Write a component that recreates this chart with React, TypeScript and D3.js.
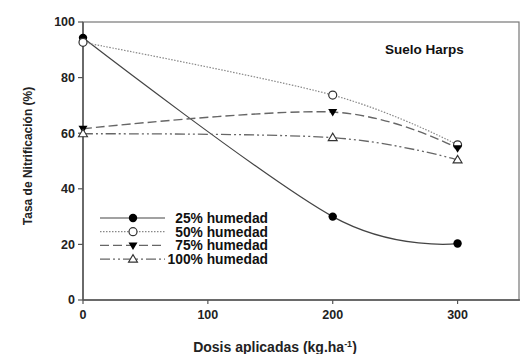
import * as d3 from "d3";
import React from "react";

const doses = [0, 200, 300];
const h25 = [94.3, 30, 20.3];
const h50 = [92.7, 73.7, 55.8];
const h75 = [61.6, 67.6, 54.6];
const h100 = [59.8, 58.4, 50.4];
const seriesNames = ["25% humedad", "50% humedad", "75% humedad", "100% humedad"];
const xTicks = [0, 100, 200, 300];
const yTicks = [0, 20, 40, 60, 80, 100];

const W = 521, H = 354;
const m = { left: 83, top: 22, right: 1, bottom: 54 };

const x = d3.scaleLinear().domain([0, 350]).range([m.left, W - m.right]);
const y = d3.scaleLinear().domain([0, 100]).range([H - m.bottom, m.top]);

const styles = [
  { stroke: "#444", dash: "none", marker: "dot", width: 1.2 },
  { stroke: "#888", dash: "1.5,1.5", marker: "circle", width: 1.2 },
  { stroke: "#666", dash: "9,4", marker: "tri-down", width: 1.4 },
  { stroke: "#666", dash: "10,3,2,3,2,3", marker: "tri-up", width: 1.3 },
];

const Marker = ({ kind, cx, cy }: { kind: string; cx: number; cy: number }) => {
  if (kind === "dot") return <circle cx={cx} cy={cy} r={4.2} fill="#000" />;
  if (kind === "circle") return <circle cx={cx} cy={cy} r={4} fill="#fff" stroke="#333" strokeWidth={1.2} />;
  if (kind === "tri-down")
    return <path d={`M${cx - 4.5},${cy - 3} L${cx + 4.5},${cy - 3} L${cx},${cy + 4.5} Z`} fill="#000" />;
  return <path d={`M${cx - 4.5},${cy + 3} L${cx + 4.5},${cy + 3} L${cx},${cy - 4.5} Z`} fill="#fff" stroke="#333" strokeWidth={1.1} />;
};

export default function App() {
  const all = [h25, h50, h75, h100];
  const line = d3.line<number>()
    .x((_v, i) => x(doses[i]))
    .y((v) => y(v))
    .curve(d3.curveCardinal.tension(0));
  const font = "Liberation Sans, Arial, sans-serif";

  return (
    <svg width={W} height={H} style={{ position: "absolute", left: 0, top: 0, background: "#fff" }} fontFamily={font}>
      {/* frame */}
      <rect x={x(0)} y={y(100)} width={x(350) - x(0) - 1} height={y(0) - y(100)} fill="none" stroke="#777" strokeWidth={1.2} />
      <line x1={x(0)} x2={x(0)} y1={y(100)} y2={y(0)} stroke="#555" strokeWidth={1.5} />
      <line x1={x(0)} x2={x(350)} y1={y(0)} y2={y(0)} stroke="#555" strokeWidth={1.5} />

      {yTicks.map((t) => (
        <g key={t}>
          <line x1={x(0) - 5} x2={x(0)} y1={y(t)} y2={y(t)} stroke="#555" strokeWidth={1.2} />
          <text x={x(0) - 8} y={y(t)} dy="0.35em" textAnchor="end" fontSize={12.5} fontWeight="bold" fill="#222">{t}</text>
        </g>
      ))}
      {xTicks.map((t) => (
        <g key={t}>
          <line x1={x(t)} x2={x(t)} y1={y(0)} y2={y(0) + 4} stroke="#555" strokeWidth={1.2} />
          <text x={x(t)} y={y(0) + 19} textAnchor="middle" fontSize={12.5} fontWeight="bold" fill="#222">{t}</text>
        </g>
      ))}

      <text transform={`translate(32,156) rotate(-90)`} textAnchor="middle" fontSize={12} fontWeight="bold" fill="#222">
        Tasa de Nitrificación (%)
      </text>
      <text x={275} y={352} textAnchor="middle" fontSize={14} fontWeight="bold" fill="#222">
        Dosis aplicadas (kg.ha<tspan dy={-5} fontSize={9}>-1</tspan><tspan dy={5}>)</tspan>
      </text>
      <text x={385} y={54} fontSize={13.5} fontWeight="bold" fill="#111">Suelo Harps</text>

      {all.map((vals, k) => (
        <path key={k} d={line(vals) || ""} fill="none" stroke={styles[k].stroke} strokeWidth={styles[k].width} strokeDasharray={styles[k].dash} />
      ))}
      {all.map((vals, k) =>
        vals.map((v, i) => <Marker key={`${k}-${i}`} kind={styles[k].marker} cx={x(doses[i])} cy={y(v)} />)
      )}

      {seriesNames.map((name, k) => {
        const ly = 218 + k * 13.7;
        return (
          <g key={name}>
            <line x1={100} x2={165} y1={ly} y2={ly} stroke={styles[k].stroke} strokeWidth={styles[k].width} strokeDasharray={styles[k].dash} />
            <Marker kind={styles[k].marker} cx={133} cy={ly} />
            <text x={268} y={ly} dy="0.35em" textAnchor="end" fontSize={13.8} fontWeight="bold" fill="#111">{name}</text>
          </g>
        );
      })}
    </svg>
  );
}
